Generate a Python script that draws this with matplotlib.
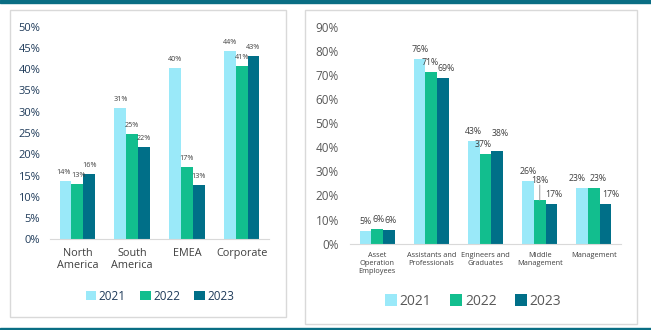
import numpy as np
import matplotlib.pyplot as plt
from matplotlib.patches import Rectangle

plt.rcParams['font.family'] = ['Open Sans', 'DejaVu Sans']

YEARS = ["2021", "2022", "2023"]
COLORS = ["#9AE9F9", "#12BE8E", "#006F88"]

REGIONS = ["North\nAmerica", "South\nAmerica", "EMEA", "Corporate"]
REGION_VALS = [
    [13.6, 30.8, 40.2, 44.4],
    [12.9, 24.7, 16.9, 40.8],
    [15.4, 21.6, 12.8, 43.0],
]
REGION_LABELS = [
    ["14%", "31%", "40%", "44%"],
    ["13%", "25%", "17%", "41%"],
    ["16%", "22%", "13%", "43%"],
]

ROLES = ["Asset\nOperation\nEmployees", "Assistants and\nProfessionals",
         "Engineers and\nGraduates", "Middle\nManagement", "Management"]
ROLE_VALS = [
    [5.4, 76.5, 42.7, 26.0, 23.2],
    [6.0, 71.4, 37.1, 18.1, 23.2],
    [5.7, 68.9, 38.3, 16.6, 16.6],
]
ROLE_LABELS = [
    ["5%", "76%", "43%", "26%", "23%"],
    ["6%", "71%", "37%", "18%", "23%"],
    ["6%", "69%", "38%", "17%", "17%"],
]
# label nudges (pixels), the original moved some labels apart
REGION_NUDGE = {(0, 0): (-2, 0), (1, 0): (1, 0)}
ROLE_NUDGE = {
    (1, 0): (1, 0), (2, 0): (2, 0),
    (1, 1): (-1, 0), (2, 1): (3, 0),
    (1, 2): (-2, 0), (2, 2): (3, 3),
    (1, 3): (0, 5), (2, 3): (2, 0),
    (0, 4): (-5, 0), (1, 4): (4, 0), (2, 4): (5, 0),
}

W, H = 651, 330
fig = plt.figure(figsize=(W / 100, H / 100), dpi=100)

def px(x0, y0, x1, y1):
    return [x0 / W, 1 - y1 / H, (x1 - x0) / W, (y1 - y0) / H]

# teal rules top and bottom
fig.patches.append(Rectangle((0, 1 - 2.5 / H), 1, 2.5 / H, transform=fig.transFigure,
                             color="#0A6E84", zorder=0))
fig.patches.append(Rectangle((0, 0), 1, 2.5 / H, transform=fig.transFigure,
                             color="#0A6E84", zorder=0))
# panel frames
for x0, y0, x1, y1 in [(10, 10, 286, 317), (305, 10, 637, 324)]:
    b = px(x0, y0, x1, y1)
    fig.patches.append(Rectangle((b[0], b[1]), b[2], b[3], transform=fig.transFigure,
                                 fill=False, edgecolor="#D9D9D9", lw=1, zorder=0))


def draw(ax, cats, vals, labels, ymax, step, tick_fs, cat_fs, lab_fs, tick_color, pad, nudge={}):
    x = np.arange(len(cats))
    w = 0.215
    for i in range(3):
        bars = ax.bar(x + (i - 1) * w, vals[i], w, color=COLORS[i], label=YEARS[i])
        for j, (rect, t) in enumerate(zip(bars, labels[i])):
            dx, dy = nudge.get((i, j), (0, 0))
            xy = (rect.get_x() + rect.get_width() / 2, rect.get_height())
            ax.annotate(t, xy, xytext=(dx * 0.72, (5 + dy) * 0.72 + 3.6 * (dy > 0)),
                        textcoords="offset points", ha="center",
                        va="bottom", fontsize=lab_fs, color="#404040")
            if dy > 3:
                ax.annotate("", xy, xytext=(0, (5 + dy) * 0.72 + 3.6),
                            textcoords="offset points",
                            arrowprops=dict(arrowstyle="-", color="#A6A6A6", lw=0.8,
                                            shrinkA=0, shrinkB=0))
    ax.set_xlim(-0.5, len(cats) - 0.5)
    ax.set_ylim(0, ymax)
    ax.set_yticks(np.arange(0, ymax + 0.1, step))
    ax.set_yticklabels([f"{int(v)}%" for v in np.arange(0, ymax + 0.1, step)],
                       fontsize=tick_fs, color=tick_color)
    ax.set_xticks(x)
    ax.set_xticklabels(cats, fontsize=cat_fs, color="#404040", linespacing=1.2)
    ax.tick_params(length=0, axis="both")
    ax.tick_params(axis="x", pad=6)
    ax.tick_params(axis="y", pad=pad)
    for s in ["top", "right", "left"]:
        ax.spines[s].set_visible(False)
    ax.spines["bottom"].set_color("#D9D9D9")


ax1 = fig.add_axes(px(50, 26.7, 269, 239.3))
draw(ax1, REGIONS, REGION_VALS, REGION_LABELS, 50, 5, 8, 7.8, 5.2, "#1F3B5A", 7, REGION_NUDGE)
ax1.legend(loc="center", bbox_to_anchor=(160 / W, 1 - 296 / H), bbox_transform=fig.transFigure,
           ncol=3, frameon=False, fontsize=8.5, handlelength=0.9, handleheight=0.9,
           handletextpad=0.2, columnspacing=1.2, labelcolor="#1F3B5A")

ax2 = fig.add_axes(px(350, 26.7, 621, 243.7))
draw(ax2, ROLES, ROLE_VALS, ROLE_LABELS, 90, 10, 8.5, 5.3, 6.3, "#595959", 8, ROLE_NUDGE)
ax2.legend(loc="center", bbox_to_anchor=(473 / W, 1 - 301.5 / H), bbox_transform=fig.transFigure,
           ncol=3, frameon=False, fontsize=10, handlelength=0.9, handleheight=0.9,
           handletextpad=0.2, columnspacing=1.3, labelcolor="#595959")

fig.savefig("out.png", dpi=100)
